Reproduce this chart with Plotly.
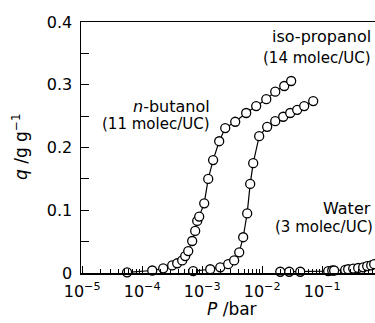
import plotly.graph_objects as go

# ---- data ----
butanol_P = [5.6e-5, 1.47e-4, 2.24e-4, 3.16e-4, 3.83e-4, 4.64e-4, 5.21e-4, 5.85e-4,
             6.81e-4, 7.64e-4, 8.26e-4, 8.91e-4, 1.08e-3, 1.26e-3, 1.52e-3, 1.92e-3,
             2.42e-3, 3.55e-3, 5.41e-3, 7.94e-3, 1.17e-2, 1.65e-2, 2.33e-2, 3.04e-2]
butanol_q = [0.001, 0.004, 0.0075, 0.012, 0.0155, 0.02, 0.027, 0.035,
             0.051, 0.067, 0.083, 0.09, 0.111, 0.15, 0.18, 0.21,
             0.231, 0.241, 0.255, 0.266, 0.277, 0.289, 0.298, 0.306]

propanol_P = [7.08e-4, 1.36e-3, 2.0e-3, 2.71e-3, 3.41e-3, 4.14e-3, 4.82e-3, 5.62e-3,
              6.31e-3, 7.08e-3, 8.91e-3, 1.21e-2, 1.65e-2, 2.24e-2, 2.93e-2, 3.83e-2,
              5.01e-2, 7.08e-2]
propanol_q = [0.003, 0.006, 0.009, 0.014, 0.02, 0.033, 0.057, 0.095,
              0.142, 0.175, 0.218, 0.233, 0.242, 0.249, 0.255, 0.26,
              0.266, 0.274]

water_P = [0.020, 0.0282, 0.043, 0.126, 0.147, 0.158, 0.242, 0.271, 0.329,
           0.398, 0.482, 0.562, 0.656, 0.736, 0.85]
water_q = [0.002, 0.002, 0.002, 0.003, 0.004, 0.004, 0.005, 0.006, 0.007,
           0.008, 0.009, 0.011, 0.012, 0.014, 0.016]

x_major_vals = [1e-5, 1e-4, 1e-3, 1e-2, 1e-1]
x_major_text = ["10<sup>−5</sup>", "10<sup>−4</sup>", "10<sup>−3</sup>",
                "10<sup>−2</sup>", "10<sup>−1</sup>"]
y_major_vals = [0, 0.1, 0.2, 0.3, 0.4]
y_major_text = ["0", "0.1", "0.2", "0.3", "0.4"]
y_minor_vals = [0.05, 0.15, 0.25, 0.35]

x_minor_vals = []
for dec in x_major_vals:
    for m in range(2, 10):
        x_minor_vals.append(m * dec)

FONT = "DejaVu Sans"

fig = go.Figure()
for P, q in [(butanol_P, butanol_q), (propanol_P, propanol_q), (water_P, water_q)]:
    fig.add_trace(go.Scatter(
        x=P, y=q, mode="lines+markers",
        line=dict(color="black", width=1.2),
        marker=dict(symbol="circle", size=9, color="white",
                    line=dict(color="black", width=1.3)),
        cliponaxis=False, showlegend=False, hoverinfo="skip",
    ))

W, H = 375, 323
L, R, T, B = 81, 0, 22, 50
pw, ph = W - L - R, H - T - B


def px(x):
    return (x - L) / pw


def py(y):
    return (H - B - y) / ph


fig.update_layout(
    width=W, height=H,
    margin=dict(l=L, r=R, t=T, b=B, pad=0),
    plot_bgcolor="white", paper_bgcolor="white",
    font=dict(family=FONT, size=16, color="black"),
    xaxis=dict(
        type="log", range=[-5.02, -5.02 + pw / 60.0],
        showgrid=False, zeroline=False,
        showline=True, linecolor="black", linewidth=1.5, mirror=True,
        tickmode="array", tickvals=x_major_vals, ticktext=x_major_text,
        ticks="inside", ticklen=7, tickwidth=1.2, tickcolor="black",
        tickfont=dict(family=FONT, size=16), ticklabelstandoff=3,
        minor=dict(tickmode="array", tickvals=x_minor_vals, ticks="inside",
                   ticklen=4, tickwidth=1, tickcolor="black", showgrid=False),
    ),
    yaxis=dict(
        range=[0, 0.4],
        showgrid=False, zeroline=False,
        showline=True, linecolor="black", linewidth=1.5, mirror=False,
        tickmode="array", tickvals=y_major_vals, ticktext=y_major_text,
        ticks="inside", ticklen=8, tickwidth=1.2, tickcolor="black",
        tickfont=dict(family=FONT, size=16), ticklabelstandoff=4,
        minor=dict(tickmode="array", tickvals=y_minor_vals, ticks="inside",
                   ticklen=8, tickwidth=1.2, tickcolor="black", showgrid=False),
    ),
)

ann = [
    ("iso-propanol", 373, 37, 16, "right"),
    ("(14 molec/UC)", 373, 58, 15, "right"),
    ("<i>n</i>-butanol", 212, 106, 16, "right"),
    ("(11 molec/UC)", 212, 124, 15, "right"),
    ("Water", 373, 208, 16, "right"),
    ("(3 molec/UC)", 375, 227, 15, "right"),
]
for text, x, y, size, anchor in ann:
    fig.add_annotation(text=text, x=px(x), y=py(y), xref="paper", yref="paper",
                       xanchor=anchor, yanchor="middle", showarrow=False,
                       font=dict(family=FONT, size=size, color="black"))

fig.add_annotation(text="<i>P</i> /bar", x=px(232), y=py(309), xref="paper", yref="paper",
                   xanchor="center", yanchor="middle", showarrow=False,
                   font=dict(family=FONT, size=17, color="black"))
fig.add_annotation(text="<i>q</i> /g g<sup>−1</sup>", x=px(20), y=py(147), xref="paper",
                   yref="paper", xanchor="center", yanchor="middle", textangle=-90,
                   showarrow=False, font=dict(family=FONT, size=17, color="black"))

fig.write_html(
    "out.html",
    config={"displayModeBar": False, "staticPlot": True},
    post_script="document.body.style.margin='0';document.body.style.padding='0';"
                "document.body.style.overflow='hidden';"
                "document.documentElement.style.overflow='hidden';",
)
